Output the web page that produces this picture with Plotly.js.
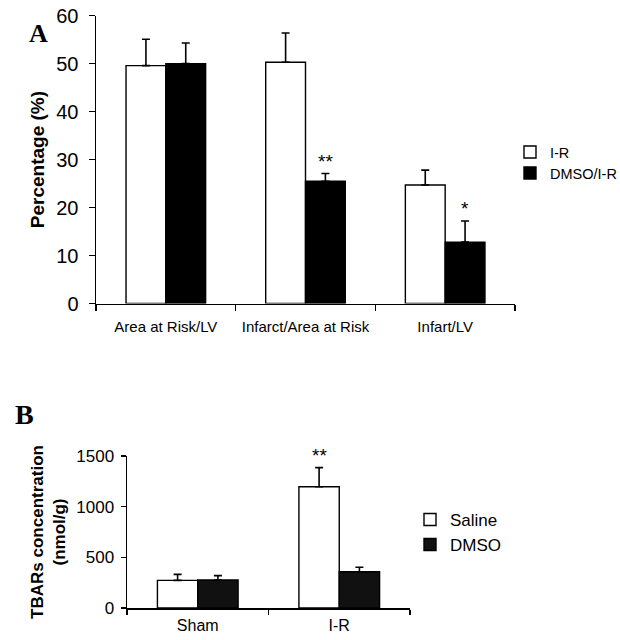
<!DOCTYPE html>
<html>
<head>
<meta charset="utf-8">
<script src="https://cdn.plot.ly/plotly-3.0.1.min.js"></script>
<style>html,body{margin:0;padding:0;background:#fff}#chart{width:620px;height:640px}</style>
</head>
<body>
<div id="chart"></div>
<script>
// Panel A data
const catsA = ["Area at Risk/LV", "Infarct/Area at Risk", "Infart/LV"];
const irVals = [49.6, 50.3, 24.7];
const irErr = [5.5, 6.1, 3.1];
const dmsoIrVals = [50.0, 25.5, 12.8];
const dmsoIrErr = [4.3, 1.6, 4.4];
const sigA = ["", "**", "*"];   // significance marks over DMSO/I-R bars

// Panel B data
const catsB = ["Sham", "I-R"];
const salineVals = [273, 1197];
const salineErr = [59, 188];
const dmsoVals = [276, 358];
const dmsoErr = [43, 44];
const sigB = ["", "**"];        // significance marks over Saline bars

const W = 620, H = 640;
const px = v => v / W;
const py = v => 1 - v / H;

const font = "Liberation Sans, Arial, sans-serif";
const errStyle = (arr) => ({type: "data", array: arr, arrayminus: arr.map(() => 0), symmetric: false,
  visible: true, color: "#000", thickness: 1.6, width: 4});

const traces = [
  {type: "bar", name: "I-R", x: catsA, y: irVals, error_y: errStyle(irErr),
   marker: {color: "#fff", line: {color: "#000", width: 1.4}}, xaxis: "x", yaxis: "y", legend: "legend"},
  {type: "bar", name: "DMSO/I-R", x: catsA, y: dmsoIrVals, error_y: errStyle(dmsoIrErr),
   marker: {color: "#000", line: {color: "#000", width: 1.4}}, xaxis: "x", yaxis: "y", legend: "legend2"},
  {type: "bar", name: "Saline", x: catsB, y: salineVals, error_y: errStyle(salineErr),
   marker: {color: "#fff", line: {color: "#000", width: 1.4}}, xaxis: "x2", yaxis: "y2", legend: "legend3"},
  {type: "bar", name: "DMSO", x: catsB, y: dmsoVals, error_y: errStyle(dmsoErr),
   marker: {color: "#111", line: {color: "#000", width: 1.4}}, xaxis: "x2", yaxis: "y2", legend: "legend4"}
];

const annotations = [
  {text: "<b>A</b>", xref: "paper", yref: "paper", x: px(27), y: py(17), showarrow: false,
   font: {family: "Liberation Serif, Times New Roman, serif", size: 26, color: "#000"}},
  {text: "<b>B</b>", xref: "paper", yref: "paper", x: px(13), y: py(432), showarrow: false,
   font: {family: "Liberation Serif, Times New Roman, serif", size: 28, color: "#000"}}
];
sigA.forEach((s, i) => {
  if (s) annotations.push({text: s, xref: "x", yref: "y", x: catsA[i], y: dmsoIrVals[i] + dmsoIrErr[i],
    xshift: 20, yshift: 0, yanchor: "bottom", showarrow: false, font: {family: font, size: 19, color: "#000"}});
});
sigB.forEach((s, i) => {
  if (s) annotations.push({text: s, xref: "x2", yref: "y2", x: catsB[i], y: salineVals[i] + salineErr[i],
    xshift: -20, yshift: 0, yanchor: "bottom", showarrow: false, font: {family: font, size: 19, color: "#000"}});
});

const legendBase = (x, y, size) => ({x: px(x), y: py(y), xanchor: "left", yanchor: "top",
  bgcolor: "rgba(0,0,0,0)", font: {size: size, color: "#000"}, itemwidth: 30});

const layout = {
  width: W, height: H,
  margin: {l: 0, r: 0, t: 0, b: 0, autoexpand: false},
  paper_bgcolor: "#fff", plot_bgcolor: "#fff",
  font: {family: font, color: "#000"},
  barmode: "group", bargap: 0.43, bargroupgap: 0,
  xaxis: {domain: [px(96), px(515)], type: "category", range: [-0.5, 2.5], automargin: false,
    showline: true, linecolor: "#000", linewidth: 1.5, showgrid: false, zeroline: false,
    ticks: "outside", tickson: "boundaries", ticklen: 6, tickwidth: 1.5, tickcolor: "#000", tickangle: 0,
    ticklabelstandoff: 9, tickfont: {size: 15, color: "#000"}, anchor: "y"},
  yaxis: {domain: [py(303.5), py(15.7)], range: [0, 60], dtick: 10, automargin: false,
    showline: true, linecolor: "#000", linewidth: 1.5, showgrid: false, zeroline: false,
    ticks: "outside", ticklen: 6, tickwidth: 1.5, tickcolor: "#000", ticklabelstandoff: 6,
    tickfont: {size: 20, color: "#000"}, anchor: "x",
    title: {text: "<b>Percentage (%)</b>", font: {size: 19, color: "#000"}, standoff: 6}},
  xaxis2: {domain: [px(127), px(410)], type: "category", range: [-0.5, 1.5], automargin: false,
    showline: true, linecolor: "#000", linewidth: 1.5, showgrid: false, zeroline: false,
    ticks: "outside", tickson: "boundaries", ticklen: 5, tickwidth: 1.5, tickcolor: "#000", tickangle: 0,
    ticklabelstandoff: 2, tickfont: {size: 16, color: "#000"}, anchor: "y2"},
  yaxis2: {domain: [py(608), py(456)], range: [0, 1500], dtick: 500, automargin: false,
    showline: true, linecolor: "#000", linewidth: 1.5, showgrid: false, zeroline: false,
    ticks: "outside", ticklen: 5, tickwidth: 1.5, tickcolor: "#000", ticklabelstandoff: 3,
    tickfont: {size: 17, color: "#000"}, anchor: "x2",
    title: {text: "<b>TBARs concentration<br>(nmol/g)</b>", font: {size: 17, color: "#000"}, standoff: 6}},
  legend: legendBase(510, 136, 14.5),
  legend2: legendBase(510, 157, 14.5),
  legend3: legendBase(410, 502, 17),
  legend4: legendBase(410, 527, 17),
  annotations: annotations,
  showlegend: true
};

Plotly.newPlot("chart", traces, layout, {staticPlot: true, displayModeBar: false});
</script>
</body>
</html>
